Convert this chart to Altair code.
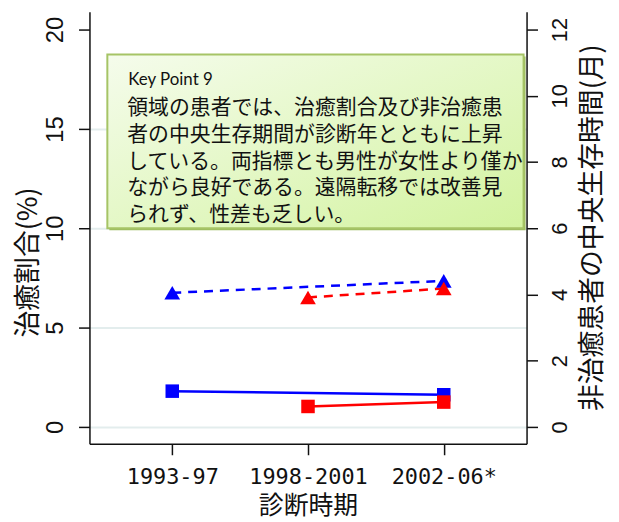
import altair as alt
import pandas as pd

PERIODS = ["1993-97", "1998-2001", "2002-06*"]
SEXES = ["男性", "女性"]
CURE_MALE = [1.80, None, 1.62]
CURE_FEMALE = [None, 1.03, 1.25]
SURV_MALE = [4.05, None, 4.41]
SURV_FEMALE = [None, 3.91, 4.18]
COLORS = ["#0000ff", "#ff0000"]

LEFT_TICKS = [0, 5, 10, 15, 20]
RIGHT_TICKS = [0, 2, 4, 6, 8, 10, 12]

KEY_TITLE = "Key Point 9"
KEY_LINES = [
    "領域の患者では、治癒割合及び非治癒患",
    "者の中央生存期間が診断年とともに上昇",
    "している。両指標とも男性が女性より僅か",
    "ながら良好である。遠隔転移では改善見",
    "られず、性差も乏しい。",
]

rows = []
for sex, cure, surv in [("男性", CURE_MALE, SURV_MALE), ("女性", CURE_FEMALE, SURV_FEMALE)]:
    for p, c, s in zip(PERIODS, cure, surv):
        rows.append({"period": p, "sex": sex, "cure": c, "surv": s})
df = pd.DataFrame(rows)
cure_df = df.dropna(subset=["cure"])
surv_df = df.dropna(subset=["surv"])

one = pd.DataFrame({"k": [0]})

W, H = 440, 435
x_enc = alt.X("period:O", sort=PERIODS, scale=alt.Scale(type="point", padding=0.61),
              axis=alt.Axis(title="診断時期", labelAngle=0, labelFont="DejaVu Sans Mono",
                            labelFontSize=22, labelColor="#111", labelPadding=12,
                            tickSize=11, tickWidth=1.5, tickColor="#111",
                            domainColor="#111", domainWidth=1.5,
                            titleFont="Noto Sans CJK JP", titleFontSize=25,
                            titleFontWeight="normal", titleColor="#111",
                            titleY=62, titleBaseline="middle", grid=False))
color_enc = alt.Color("sex:N", scale=alt.Scale(domain=SEXES, range=COLORS), legend=None)

y_cure = alt.Y("cure:Q", scale=alt.Scale(domain=[-0.85, 20.9], nice=False, zero=False),
               axis=alt.Axis(orient="left", values=LEFT_TICKS, title="治癒割合(%)",
                             labelAngle=270, labelAlign="center", labelBaseline="bottom",
                             labelFont="Liberation Sans", labelFontSize=24, labelColor="#111",
                             labelPadding=11, tickSize=11, tickWidth=1.5, tickColor="#111",
                             domainColor="#111", domainWidth=1.5,
                             grid=True, gridWidth=2,
                             gridColor={"condition": {"test": "datum.value === 20", "value": "transparent"},
                                        "value": "#e3eded"},
                             titleFont="Noto Sans CJK JP", titleFontSize=27,
                             titleFontWeight="normal", titleColor="#111",
                             titleAngle=270, titleX=-61, titleY=252,
                             titleBaseline="middle", titleAlign="center"))
y_surv = alt.Y("surv:Q", scale=alt.Scale(domain=[-0.51, 12.54], nice=False, zero=False),
               axis=alt.Axis(orient="right", values=RIGHT_TICKS,
                             title="非治癒患者の中央生存時間(月)",
                             labelAngle=270, labelAlign="center", labelBaseline="top",
                             labelFont="Liberation Sans", labelFontSize=22, labelColor="#111",
                             labelPadding=12, tickSize=11, tickWidth=1.5, tickColor="#111",
                             domainColor="#111", domainWidth=1.5, grid=False,
                             titleFont="Noto Sans CJK JP", titleFontSize=27,
                             titleFontWeight="normal", titleColor="#111",
                             titleAngle=270, titleX=66, titleY=217,
                             titleBaseline="middle", titleAlign="center"))

shadow = alt.Chart(one).mark_rect(fill="#9cbc60").encode(
    x=alt.value(20), x2=alt.value(439), y=alt.value(45), y2=alt.value(220))
box = alt.Chart(one).mark_rect(
    fill=alt.Gradient(gradient="linear",
                      stops=[alt.GradientStop(color="#f5fcec", offset=0),
                             alt.GradientStop(color="#d3f3a0", offset=1)],
                      x1=0, y1=0, x2=1, y2=1),
    stroke="#a6c466", strokeWidth=2).encode(
    x=alt.value(18), x2=alt.value(437), y=alt.value(43), y2=alt.value(218))
key_title = alt.Chart(one).mark_text(
    text=KEY_TITLE, font="Lato", fontSize=17, align="left", baseline="alphabetic",
    color="#111").encode(x=alt.value(39), y=alt.value(74))
key_text = alt.Chart(one).mark_text(
    text=KEY_LINES, font="Noto Sans CJK JP", fontSize=21, lineHeight=27,
    align="left", baseline="top", color="#111").encode(x=alt.value(38), y=alt.value(86))

cure_line = alt.Chart(cure_df).mark_line(strokeWidth=2.5).encode(x=x_enc, y=y_cure, color=color_enc)
cure_pts = alt.Chart(cure_df).mark_point(shape="square", filled=True, opacity=1, size=185).encode(
    x=x_enc, y=y_cure, color=color_enc)
surv_line = alt.Chart(surv_df).mark_line(strokeWidth=2.5, strokeDash=[9, 7]).encode(
    x=x_enc, y=y_surv, color=color_enc)
surv_pts = alt.Chart(surv_df).mark_point(shape="triangle-up", filled=True, opacity=1, size=250).encode(
    x=x_enc, y=y_surv, color=color_enc)

left = alt.layer(shadow, box, key_title, key_text, cure_line, cure_pts)
right = alt.layer(surv_line, surv_pts)

chart = alt.layer(left, right).resolve_scale(y="independent").properties(
    width=W, height=H,
    autosize=alt.AutoSizeParams(type="none"),
    padding={"left": 82, "top": 2, "right": 85, "bottom": 76},
).configure_view(strokeWidth=0)

chart.save("out.html", embed_options={"renderer": "svg", "actions": False})
